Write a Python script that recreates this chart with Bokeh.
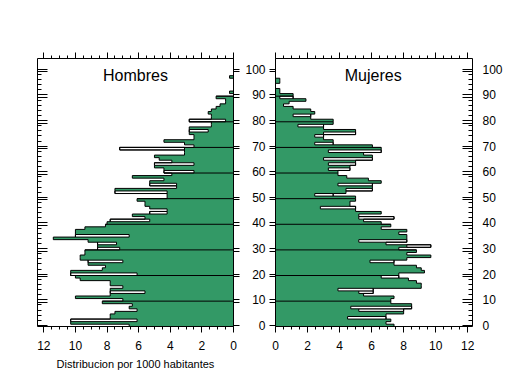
from bokeh.plotting import figure
from bokeh.models import Range1d, LinearAxis, FixedTicker, Label
from bokeh.layouts import row
from bokeh.embed import file_html
from bokeh.resources import INLINE

# ---------------- data ----------------
edades = list(range(101))

hombres = [6.6, 10.3, 10.3, 7.8, 7.8, 7.5, 6.1, 6.6, 6.4, 8.3,
           7.0, 10.0, 7.8, 7.8, 7.8, 7.0, 7.8, 7.8, 9.7, 10.0,
           10.3, 10.3, 8.3, 8.1, 9.2, 9.2, 9.7, 9.7, 9.4, 9.4,
           8.6, 8.6, 8.6, 9.2, 11.4, 10.0, 10.0, 10.0, 9.4, 8.1,
           8.0, 7.8, 5.6, 6.4, 5.3, 4.2, 5.3, 5.6, 5.6, 6.1,
           4.2, 4.2, 7.5, 7.5, 3.6, 5.3, 5.3, 4.4, 6.4, 3.9,
           4.4, 4.4, 5.0, 5.0, 3.9, 4.7, 5.0, 3.1, 3.1, 7.2,
           2.5, 3.1, 4.4, 2.5, 2.5, 2.8, 2.8, 2.8, 1.4, 1.4,
           2.8, 1.4, 1.4, 1.6, 1.4, 1.1, 0.85, 0.5, 0.5, 1.1,
           0.0, 0.25, 0.0, 0.0, 0.0, 0.0, 0.0, 0.25, 0.0, 0.0,
           0.0]
# ages where the green fill stops short of the outline (white strip)
hombres_hueco_edad = [2, 13, 20, 25, 30, 32, 35, 41, 44, 52, 55, 60, 63, 69, 76, 80]
hombres_hueco_valor = [6.1, 5.6, 6.1, 7.0, 7.2, 7.4, 6.6, 5.3, 4.2, 4.2, 3.6, 2.5, 2.5, 3.1, 1.6, 0.5]

mujeres = [7.4, 6.9, 7.2, 6.9, 6.9, 8.0, 8.0, 8.5, 8.5, 7.2,
           7.2, 7.4, 5.5, 6.1, 6.1, 9.1, 9.1, 8.8, 8.3, 7.7,
           7.7, 9.3, 9.1, 8.8, 7.4, 7.4, 8.2, 9.7, 8.2, 8.8,
           7.7, 9.7, 6.9, 8.2, 8.2, 8.2, 7.7, 8.2, 6.6, 7.2,
           6.6, 5.5, 7.4, 5.2, 6.6, 5.0, 5.0, 4.65, 4.65, 5.0,
           5.0, 3.6, 4.4, 6.05, 6.05, 6.05, 6.6, 5.8, 4.45, 3.9,
           3.9, 4.65, 4.65, 5.0, 5.0, 6.05, 6.05, 5.5, 6.6, 6.6,
           6.05, 3.6, 3.6, 3.0, 3.0, 5.0, 5.0, 3.0, 3.0, 3.6,
           3.6, 2.2, 2.2, 2.45, 2.2, 1.1, 0.5, 0.85, 1.9, 1.1,
           1.1, 0.27, 0.27, 0.0, 0.0, 0.27, 0.27, 0.0, 0.0, 0.0,
           0.0]
mujeres_hueco_edad = [3, 6, 7, 13, 14, 19, 25, 31, 33, 42, 46, 51, 53, 55, 61, 63, 65, 68, 71, 74, 75, 78, 82, 89]
mujeres_hueco_valor = [4.5, 5.2, 4.7, 5.2, 3.9, 6.6, 5.9, 8.2, 5.2, 5.2, 2.8, 2.45, 4.4, 3.9, 3.3, 3.3, 3.0, 3.3, 2.45, 2.45, 3.0, 1.4, 1.1, 0.27]

titulos = ["Hombres", "Mujeres"]
etiqueta_x = "Distribucion por 1000 habitantes"
ticks_x = [0, 2, 4, 6, 8, 10, 12]
ticks_x_menores = [i * 0.5 for i in range(25)]
ticks_y = [0, 10, 20, 30, 40, 50, 60, 70, 80, 90, 100]
ticks_y_menores = list(range(0, 101, 2))

# ---------------- style ----------------
VERDE = "#339966"
FUENTE = "Liberation Sans"


def step_coords(vals):
    xs, ys = [0.0], [-0.5]
    for a, v in zip(edades, vals):
        xs += [v, v]
        ys += [a - 0.5, a + 0.5]
    xs.append(0.0)
    ys.append(edades[-1] + 0.5)
    return xs, ys


def y_ticker(minor):
    dobles = ticks_y + [t - 1 for t in ticks_y if t > 0]
    return FixedTicker(ticks=sorted(dobles), minor_ticks=(ticks_y_menores if minor else []))


def y_overrides():
    return {t - 1: "" for t in ticks_y if t > 0}


def hide_labels(ax):
    ax.major_label_text_font_size = "0px"
    ax.major_label_standoff = 0
    ax.major_label_overrides = {t: "" for t in ax.ticker.ticks}


def style_axis(ax):
    ax.axis_line_color = "black"
    ax.major_tick_line_color = "black"
    ax.minor_tick_line_color = "black"
    ax.major_label_text_font = FUENTE
    ax.major_label_text_font_size = "12px"
    ax.major_label_text_color = "black"


def panel(vals, hueco_e, hueco_v, x_range, titulo, titulo_x, lado, width, mbl, mbr):
    p = figure(width=width, height=376, x_range=x_range, y_range=Range1d(-0.4, 104.2),
               output_backend="svg", toolbar_location=None,
               x_axis_location=None, y_axis_location=None,
               min_border_left=mbl, min_border_right=mbr,
               min_border_top=58, min_border_bottom=50)
    p.grid.visible = False
    p.outline_line_color = None
    p.background_fill_color = "white"
    p.border_fill_color = "white"

    xs, ys = step_coords(vals)
    p.patch(xs, ys, fill_color=VERDE, line_color=None)

    hv = [vals[e] for e in hueco_e]
    p.hbar(y=hueco_e, height=1.0, left=hueco_v, right=hv,
           fill_color="white", line_color="black", line_width=1)

    p.line(xs, ys, line_color="black", line_width=1)

    dec_y, dec_x1 = [], []
    for t in ticks_y:
        if 0 < t <= 100:
            m = max(vals[t - 1], vals[t])
            if m > 0:
                dec_y.append(t - 0.5)
                dec_x1.append(m)
    p.segment(x0=[0] * len(dec_y), y0=dec_y, x1=dec_x1, y1=dec_y,
              line_color="black", line_width=1)

    # bottom axis
    bx = LinearAxis(ticker=FixedTicker(ticks=ticks_x, minor_ticks=ticks_x_menores))
    style_axis(bx)
    bx.major_tick_out = 6
    bx.major_tick_in = 0
    bx.minor_tick_out = 3
    bx.minor_tick_in = 0
    bx.major_label_standoff = 8
    if lado == "h":
        bx.axis_label = etiqueta_x
        bx.axis_label_text_font = FUENTE
        bx.axis_label_text_font_size = "11px"
        bx.axis_label_text_font_style = "normal"
        bx.axis_label_text_color = "black"
        bx.axis_label_standoff = 5
    p.add_layout(bx, "below")

    # top axis
    tx = LinearAxis(ticker=FixedTicker(ticks=ticks_x, minor_ticks=ticks_x_menores))
    style_axis(tx)
    tx.major_tick_out = 6
    tx.major_tick_in = 0
    tx.minor_tick_out = 3
    tx.minor_tick_in = 0
    hide_labels(tx)
    p.add_layout(tx, "above")

    # outer y axis (inward ticks with minor ticks)
    oy = LinearAxis(ticker=y_ticker(True))
    style_axis(oy)
    oy.major_tick_in = 10
    oy.major_tick_out = 0
    oy.minor_tick_in = 4
    oy.minor_tick_out = 0
    # inner y axis (outward double ticks)
    iy = LinearAxis(ticker=y_ticker(False))
    style_axis(iy)
    iy.major_tick_in = 0
    iy.major_tick_out = 6
    iy.minor_tick_in = 0
    iy.minor_tick_out = 0

    if lado == "h":
        hide_labels(oy)
        hide_labels(iy)
        p.add_layout(oy, "left")
        p.add_layout(iy, "right")
    else:
        iy.major_label_overrides = y_overrides()
        iy.major_label_standoff = 4
        oy.major_label_overrides = y_overrides()
        oy.major_label_standoff = 10
        p.add_layout(iy, "left")
        p.add_layout(oy, "right")

    p.add_layout(Label(x=titulo_x, y=97.6, text=titulo, text_align="center",
                       text_baseline="alphabetic", text_font=FUENTE,
                       text_font_size="16px", text_color="black"))
    return p


p1 = panel(hombres, hombres_hueco_edad, hombres_hueco_valor, Range1d(12.4, 0),
           titulos[0], 6.2, "h", 240, 37, 7)
p2 = panel(mujeres, mujeres_hueco_edad, mujeres_hueco_valor, Range1d(0, 12.3),
           titulos[1], 6.1, "m", 269, 35, 37)

layout = row(p1, p2)
open("out.html", "w").write(file_html(layout, INLINE))
